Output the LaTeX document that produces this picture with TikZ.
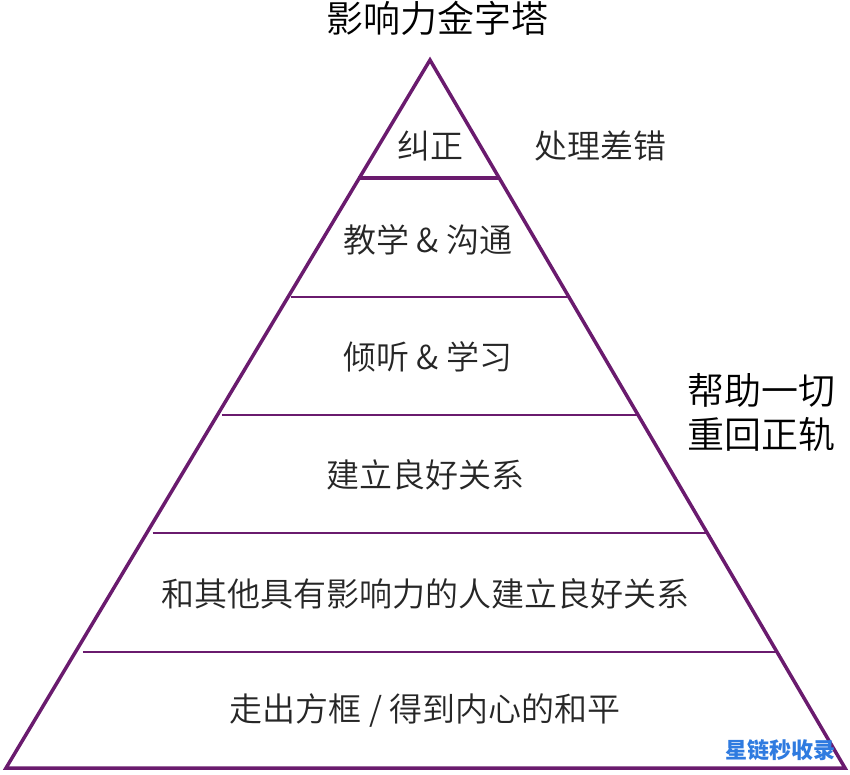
\documentclass[tikz,border=0pt]{standalone}
\usepackage{fontspec}
\setmainfont{Noto Sans CJK SC}
\newfontfamily\cjkb{Noto Sans CJK SC Medium}
\newfontfamily\cjkl{Noto Sans CJK SC DemiLight}
\definecolor{pyr}{HTML}{6A1B6E}
\definecolor{wm}{HTML}{2F7BE0}
\begin{document}
\begin{tikzpicture}[x=1pt,y=-1pt,
  lbl/.style={font=\cjkl\fontsize{33}{38}\selectfont,text=black!85},
  sep/.style={draw=pyr,line width=1.5pt}]
\useasboundingbox (0,0) rectangle (850,774);
\coordinate (apex) at (430,60);
\coordinate (bl) at (6,768);
\coordinate (br) at (845,768);
\draw[pyr,line width=3.5pt,line join=miter] (apex) -- (br) -- (bl) -- cycle;
\coordinate (a1) at (358,178); \coordinate (b1) at (499,178);
\draw[pyr,line width=4pt] (a1) -- (b1);
\foreach \y [count=\i] in {297,415,533,652}{
  \pgfmathsetmacro\dx{0.5862*(\y-60)}
  \coordinate (l\i) at ({430-\dx},\y); \coordinate (r\i) at ({430+\dx},\y);
  \draw[sep] (l\i) -- (r\i);
}
\node[font=\cjkl\fontsize{37}{40}\selectfont] (title) at (437,18) {影响力金字塔};
\node[lbl] (t0) at (430,146) {纠正};
\node[lbl] (side0) at (600,146) {处理差错};
\node[lbl] (t1) at (428,240) {教学 \& 沟通};
\node[lbl] (t2) at (428,357) {倾听 \& 学习};
\node[lbl] (t3) at (425,475) {建立良好关系};
\node[lbl] (t4) at (425,594) {和其他具有影响力的人建立良好关系};
\node[lbl] (t5) at (425,711) {走出方框 / 得到内心的和平};
\node[font=\cjkl\fontsize{37}{44}\selectfont,align=center] (side) at (761,412) {帮助一切\\重回正轨};
\node[font=\bfseries\itshape\fontsize{22}{25}\selectfont,text=wm] (wmk) at (780,750) {星链秒收录};
\end{tikzpicture}
\end{document}
